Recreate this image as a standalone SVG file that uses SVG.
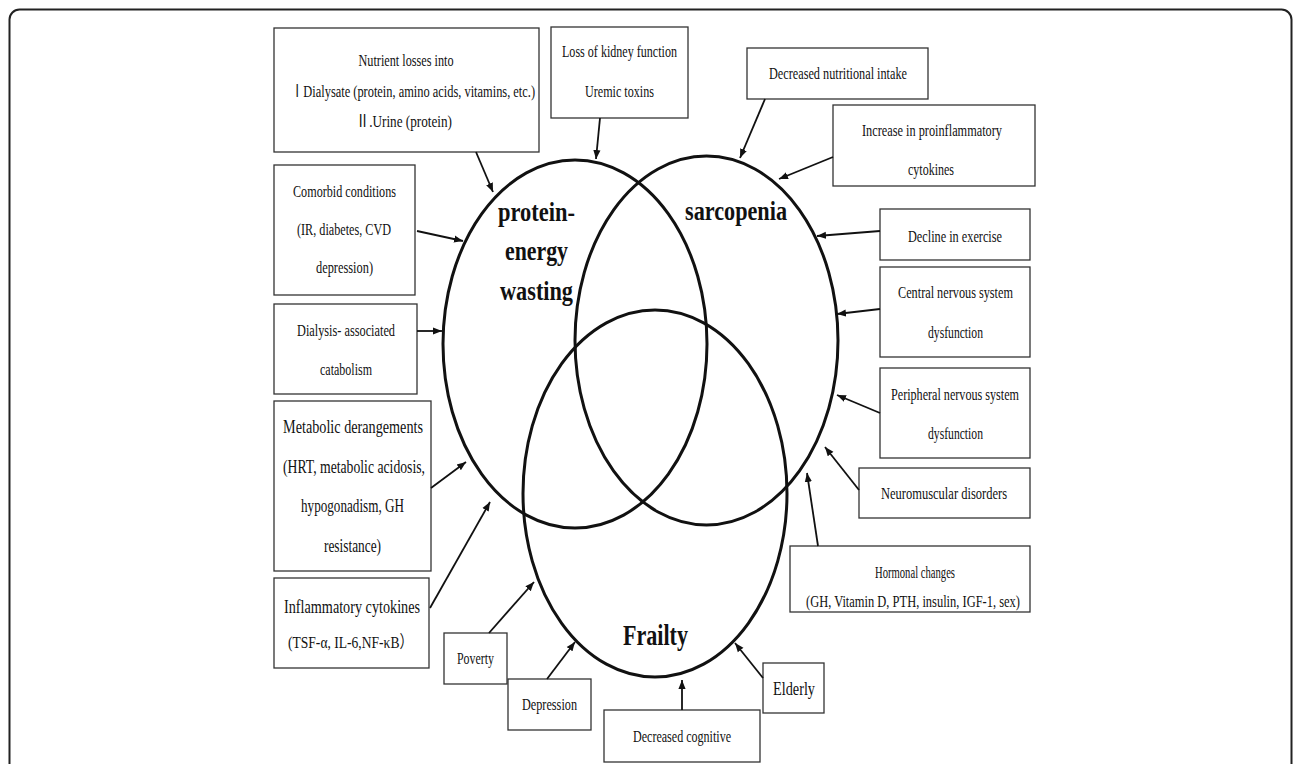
<svg xmlns="http://www.w3.org/2000/svg" width="1296" height="764" viewBox="0 0 1296 764">
<style>
.box{fill:#fff;stroke:#333;stroke-width:1.3}
.t{font-family:"Liberation Serif","Times New Roman","Noto Sans CJK SC",serif;font-size:17px;fill:#111;text-anchor:middle}
.t19{font-size:19px}
.t15{font-size:16px}
.lbl{font-family:"Liberation Serif","Times New Roman",serif;font-weight:bold;font-size:28px;fill:#111;text-anchor:middle}
.ell{fill:none;stroke:#111;stroke-width:3}
.arr{stroke:#111;stroke-width:1.8;fill:none;marker-end:url(#ah)}
</style>
<defs>
<marker id="ah" viewBox="0 0 10 10" refX="10" refY="5" markerWidth="9" markerHeight="9" markerUnits="userSpaceOnUse" orient="auto">
<path d="M0,1 L10,5 L0,9 z" fill="#111"/>
</marker>
</defs>
<rect x="9.5" y="9.5" width="1282" height="800" rx="10" fill="none" stroke="#222" stroke-width="2"/>

<g id="venn">
<ellipse id="pew" class="ell" cx="575" cy="344" rx="132" ry="184"/>
<ellipse id="sarc" class="ell" cx="706.5" cy="340.5" rx="131.5" ry="184.5"/>
<ellipse id="frail" class="ell" cx="655" cy="493.5" rx="132" ry="183.5"/>
<text class="lbl" x="536.5" y="221" textLength="77" lengthAdjust="spacingAndGlyphs">protein-</text>
<text class="lbl" x="536.5" y="260" textLength="63" lengthAdjust="spacingAndGlyphs">energy</text>
<text class="lbl" x="536.5" y="300" textLength="73" lengthAdjust="spacingAndGlyphs">wasting</text>
<text class="lbl" x="736" y="220" textLength="102" lengthAdjust="spacingAndGlyphs">sarcopenia</text>
<text class="lbl" x="655.5" y="645" style="font-size:29px" textLength="65" lengthAdjust="spacingAndGlyphs">Frailty</text>
</g>

<g id="n-nutrient">
<rect class="box" x="274" y="28" width="265" height="124"/>
<text class="t" x="406" y="66" textLength="95" lengthAdjust="spacingAndGlyphs">Nutrient losses into</text>
<text class="t" transform="translate(413,97) scale(0.72,1)" x="0" y="0" textLength="339" lengthAdjust="spacingAndGlyphs">ⅠDialysate (protein, amino acids, vitamins, etc.)</text>
<text class="t" x="404" y="127" textLength="96" lengthAdjust="spacingAndGlyphs">Ⅱ.Urine (protein)</text>
</g>
<g id="n-loss">
<rect class="box" x="551" y="27" width="137" height="91"/>
<text class="t" x="619.5" y="57" textLength="115" lengthAdjust="spacingAndGlyphs">Loss of kidney function</text>
<text class="t" x="619.5" y="97" textLength="69" lengthAdjust="spacingAndGlyphs">Uremic toxins</text>
</g>
<g id="n-intake">
<rect class="box" x="747" y="48" width="181" height="51"/>
<text class="t" x="838" y="79" textLength="138" lengthAdjust="spacingAndGlyphs">Decreased nutritional intake</text>
</g>
<g id="n-increase">
<rect class="box" x="833" y="105" width="202" height="81"/>
<text class="t" x="932" y="136" textLength="140" lengthAdjust="spacingAndGlyphs">Increase in proinflammatory</text>
<text class="t" x="931" y="175" textLength="46" lengthAdjust="spacingAndGlyphs">cytokines</text>
</g>
<g id="n-decline">
<rect class="box" x="880" y="209" width="150" height="51"/>
<text class="t" x="955" y="242" textLength="94" lengthAdjust="spacingAndGlyphs">Decline in exercise</text>
</g>
<g id="n-central">
<rect class="box" x="880" y="267" width="150" height="90"/>
<text class="t" x="955.5" y="298" textLength="115" lengthAdjust="spacingAndGlyphs">Central nervous system</text>
<text class="t" x="955.5" y="338" textLength="55" lengthAdjust="spacingAndGlyphs">dysfunction</text>
</g>
<g id="n-peripheral">
<rect class="box" x="880" y="368" width="150" height="90"/>
<text class="t" x="955" y="400" textLength="128" lengthAdjust="spacingAndGlyphs">Peripheral nervous system</text>
<text class="t" x="955.5" y="439" textLength="55" lengthAdjust="spacingAndGlyphs">dysfunction</text>
</g>
<g id="n-neuro">
<rect class="box" x="859" y="468" width="171" height="50"/>
<text class="t" x="944" y="499" textLength="126" lengthAdjust="spacingAndGlyphs">Neuromuscular disorders</text>
</g>
<g id="n-hormonal">
<rect class="box" x="790" y="546" width="240" height="66"/>
<text class="t" x="915" y="578" textLength="80" lengthAdjust="spacingAndGlyphs">Hormonal changes</text>
<text class="t" x="913" y="607" textLength="214" lengthAdjust="spacingAndGlyphs">(GH, Vitamin D, PTH, insulin, IGF-1, sex)</text>
</g>
<g id="n-comorbid">
<rect class="box" x="274" y="165" width="141" height="130"/>
<text class="t" x="344.5" y="197" textLength="103" lengthAdjust="spacingAndGlyphs">Comorbid conditions</text>
<text class="t" x="344" y="235" textLength="94" lengthAdjust="spacingAndGlyphs">(IR, diabetes, CVD</text>
<text class="t" x="344.5" y="273" textLength="57" lengthAdjust="spacingAndGlyphs">depression)</text>
</g>
<g id="n-dialysis">
<rect class="box" x="274" y="304" width="143" height="90"/>
<text class="t" x="346" y="336" textLength="98" lengthAdjust="spacingAndGlyphs">Dialysis- associated</text>
<text class="t" x="346" y="375" textLength="52" lengthAdjust="spacingAndGlyphs">catabolism</text>
</g>
<g id="n-metabolic">
<rect class="box" x="274" y="401" width="157" height="170"/>
<text class="t t19" x="353" y="433" textLength="140" lengthAdjust="spacingAndGlyphs">Metabolic derangements</text>
<text class="t t19" x="354" y="473" textLength="142" lengthAdjust="spacingAndGlyphs">(HRT, metabolic acidosis,</text>
<text class="t t19" x="352.5" y="512" textLength="103" lengthAdjust="spacingAndGlyphs">hypogonadism, GH</text>
<text class="t t19" x="352.5" y="552" textLength="57" lengthAdjust="spacingAndGlyphs">resistance)</text>
</g>
<g id="n-inflam">
<rect class="box" x="274" y="578" width="155" height="90"/>
<text class="t t19" x="352" y="613" textLength="136" lengthAdjust="spacingAndGlyphs">Inflammatory cytokines</text>
<text class="t" x="350.5" y="648" style="font-size:17px" textLength="125" lengthAdjust="spacingAndGlyphs">(TSF-α, IL-6,NF-κB）</text>
</g>
<g id="n-poverty">
<rect class="box" x="444" y="633" width="63" height="51"/>
<text class="t t15" x="475.5" y="664" textLength="37" lengthAdjust="spacingAndGlyphs">Poverty</text>
</g>
<g id="n-depression">
<rect class="box" x="508" y="679" width="83" height="51"/>
<text class="t t15" x="549.5" y="710" textLength="55" lengthAdjust="spacingAndGlyphs">Depression</text>
</g>
<g id="n-cognitive">
<rect class="box" x="604" y="710" width="156" height="52"/>
<text class="t t15" x="682" y="742" textLength="98" lengthAdjust="spacingAndGlyphs">Decreased cognitive</text>
</g>
<g id="n-elderly">
<rect class="box" x="763" y="663" width="61" height="50"/>
<text class="t t19" x="794" y="695" textLength="42" lengthAdjust="spacingAndGlyphs">Elderly</text>
</g>

<g id="connectors">
<line class="arr" x1="476" y1="152" x2="493" y2="192"/>
<line class="arr" x1="600" y1="118" x2="596" y2="159"/>
<line class="arr" x1="765" y1="99" x2="740" y2="158"/>
<line class="arr" x1="833" y1="157" x2="779" y2="179"/>
<line class="arr" x1="880" y1="231" x2="817" y2="236"/>
<line class="arr" x1="880" y1="309" x2="837" y2="314"/>
<line class="arr" x1="880" y1="413" x2="837" y2="395"/>
<line class="arr" x1="859" y1="490" x2="825" y2="447"/>
<line class="arr" x1="818" y1="546" x2="807" y2="473"/>
<line class="arr" x1="417" y1="231" x2="463" y2="241"/>
<line class="arr" x1="417" y1="331" x2="442" y2="331"/>
<line class="arr" x1="431" y1="488" x2="466" y2="462"/>
<line class="arr" x1="430" y1="608" x2="490" y2="502"/>
<line class="arr" x1="489" y1="633" x2="534" y2="582"/>
<line class="arr" x1="547" y1="679" x2="575" y2="642"/>
<line class="arr" x1="682" y1="710" x2="682" y2="680"/>
<line class="arr" x1="763" y1="678" x2="735" y2="643"/>
</g>
</svg>
